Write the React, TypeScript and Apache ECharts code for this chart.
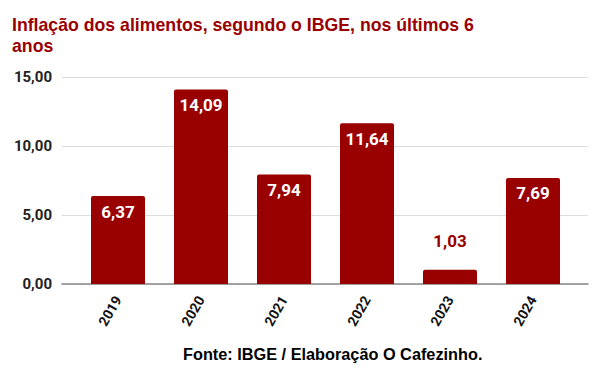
import React, { useEffect, useRef } from "react";
import * as echarts from "echarts";

const categories = ["2019", "2020", "2021", "2022", "2023", "2024"];
const values = [6.37, 14.09, 7.94, 11.64, 1.03, 7.69];
const yTicks = [0, 5, 10, 15];
const titleText = "Inflação dos alimentos, segundo o IBGE, nos últimos 6\nanos";
const footerText = "Fonte: IBGE / Elaboração O Cafezinho.";

const fmt = (v: number) => v.toFixed(2).replace(".", ",");

export default function App() {
  const ref = useRef<HTMLDivElement>(null);
  useEffect(() => {
    document.body.style.margin = "0";
    const chart = echarts.init(ref.current!, null, { renderer: "svg" });
    const red = "#990000";
    chart.setOption({
      animation: false,
      backgroundColor: "#ffffff",
      title: {
        text: titleText,
        left: 12,
        top: 14,
        padding: 0,
        textStyle: {
          fontFamily: "Liberation Sans",
          fontWeight: "bold",
          fontSize: 17.7,
          lineHeight: 21,
          color: red,
        },
      },
      graphic: [
        {
          type: "text",
          left: 183,
          top: 346,
          style: {
            text: footerText,
            font: "bold 16.3px 'Liberation Sans'",
            fill: "#000000",
          },
        },
      ],
      grid: [
        { left: 62, right: 12, top: 77, bottom: 85 },
        { left: 76.5, right: 25.5, top: 77, bottom: 85 },
      ],
      xAxis: [
        {
          gridIndex: 0,
          type: "category",
          data: [""],
          axisLine: { show: true, lineStyle: { color: "#888888", width: 1.5 } },
          axisTick: { show: false },
          axisLabel: { show: false },
        },
        {
          gridIndex: 1,
          type: "category",
          data: categories,
          axisLine: { show: false },
          axisTick: { show: false },
          axisLabel: {
            rotate: 60,
            margin: 13,
            fontFamily: "Roboto",
            fontWeight: "bold",
            fontSize: 14,
            color: "#111111",
          },
        },
      ],
      yAxis: [
        {
          gridIndex: 0,
          type: "value",
          min: yTicks[0],
          max: yTicks[yTicks.length - 1],
          interval: 5,
          axisLine: { show: false },
          axisTick: { show: false },
          splitLine: { lineStyle: { color: "#dddddd", width: 1 } },
          axisLabel: {
            formatter: (v: number) => fmt(v),
            margin: 10,
            fontFamily: "Roboto",
            fontWeight: "bold",
            fontSize: 15,
            color: "#222222",
          },
        },
        {
          gridIndex: 1,
          type: "value",
          min: yTicks[0],
          max: yTicks[yTicks.length - 1],
          interval: 5,
          show: false,
          splitLine: { show: false },
        },
      ],
      series: [
        {
          type: "bar",
          xAxisIndex: 1,
          yAxisIndex: 1,
          barWidth: 54,
          data: values.map((v) =>
            v < 3
              ? {
                  value: v,
                  label: {
                    position: "top",
                    distance: 20,
                    color: red,
                  },
                }
              : v
          ),
          itemStyle: { color: red, borderRadius: [2, 2, 0, 0] },
          label: {
            show: true,
            position: "insideTop",
            distance: 7,
            formatter: (p: any) => fmt(p.value),
            fontFamily: "Roboto",
            fontWeight: "bold",
            fontSize: 17,
            color: "#ffffff",
          },
        },
      ],
    });
    return () => chart.dispose();
  }, []);
  return <div ref={ref} style={{ width: 600, height: 369 }} />;
}
